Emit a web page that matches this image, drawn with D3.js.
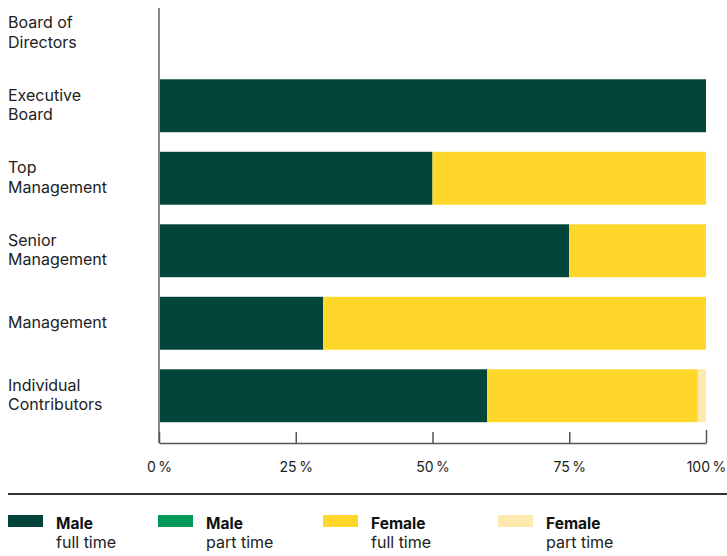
<!DOCTYPE html>
<html>
<head>
<meta charset="utf-8">
<script src="https://cdn.jsdelivr.net/npm/d3@7"></script>
<style>
  body { margin: 0; background: #fff; }
  svg { font-family: Inter, "Open Sans", sans-serif; }
</style>
</head>
<body>
<svg width="727" height="556"></svg>
<script>
// chart data
var categories = [
   ["Board of", "Directors"],
   ["Executive", "Board"],
   ["Top", "Management"],
   ["Senior", "Management"],
   ["Management"],
   ["Individual", "Contributors"]
];
var maleFull   = [0, 100, 50, 75, 30, 60];
var malePart   = [0, 0, 0, 0, 0, 0];
var femaleFull = [0, 0, 50, 25, 70, 38.5];
var femalePart = [0, 0, 0, 0, 0, 1.5];
var ticks = [0, 25, 50, 75, 100];

var seriesNames = [["Male", "full time"], ["Male", "part time"], ["Female", "full time"], ["Female", "part time"]];
var colors = ["#03453a", "#00995a", "#ffd62a", "#feeaae"];

var svg = d3.select("svg");

var x = d3.scaleLinear().domain([0, 100]).range([159, 706]);
var y = d3.scaleBand()
   .domain(d3.range(categories.length))
   .range([-3, 432])
   .paddingInner(0.27)
   .paddingOuter(0.135);

// stack the series
var rows = categories.map(function(c, i) {
   return { i: i, s0: maleFull[i], s1: malePart[i], s2: femaleFull[i], s3: femalePart[i] };
});
var stack = d3.stack().keys(["s0", "s1", "s2", "s3"]);
var layers = stack(rows);

svg.append("g").selectAll("g")
   .data(layers)
   .join("g")
   .attr("fill", function(d, k) { return colors[k]; })
   .selectAll("rect")
   .data(function(d) { return d; })
   .join("rect")
   .attr("x", function(d) { return x(d[0]); })
   .attr("y", function(d) { return y(d.data.i); })
   .attr("width", function(d) { return x(d[1]) - x(d[0]); })
   .attr("height", y.bandwidth());

// category labels
var labels = svg.append("g").selectAll("text")
   .data(categories)
   .join("text")
   .attr("x", 8)
   .attr("y", function(d, i) { return y(i) + y.bandwidth() / 2 - 1; })
   .attr("font-size", 16)
   .attr("fill", "#222");

labels.each(function(d) {
   var t = d3.select(this);
   var lh = 19.5;
   var start = -(d.length - 1) * lh / 2;
   d.forEach(function(line, k) {
      t.append("tspan")
         .attr("x", 8)
         .attr("y", +t.attr("y") + start + k * lh)
         .attr("dy", "0.35em")
         .text(line);
   });
});

// left axis line
svg.append("line")
   .attr("x1", x(0)).attr("x2", x(0))
   .attr("y1", 8).attr("y2", 443)
   .attr("stroke", "#888")
   .attr("stroke-width", 2);

// bottom axis
var xAxis = d3.axisBottom(x)
   .tickValues(ticks)
   .tickSizeInner(-11)
   .tickSizeOuter(0)
   .tickPadding(19)
   .tickFormat(function(d) { return d + "\u2009%"; });

var gx = svg.append("g")
   .attr("transform", "translate(0,443)")
   .call(xAxis);
gx.select(".domain").attr("stroke", "#555").attr("stroke-width", 1.5);
gx.selectAll(".tick line").attr("stroke", "#555").attr("stroke-width", 1.5);
gx.selectAll(".tick").filter(function(d) { return d === 100; }).select("line").attr("y2", -13);
gx.selectAll(".tick text")
   .attr("font-size", 14)
   .attr("fill", "#222")
   .attr("font-family", "Inter, 'Open Sans', sans-serif");

// separator line
svg.append("line")
   .attr("x1", 8).attr("x2", 727)
   .attr("y1", 494).attr("y2", 494)
   .attr("stroke", "#333")
   .attr("stroke-width", 2);

// legend
var legendX = [8, 158, 323, 498];
var lg = svg.append("g").selectAll("g")
   .data(seriesNames)
   .join("g")
   .attr("transform", function(d, i) { return "translate(" + legendX[i] + ",0)"; });

lg.append("rect")
   .attr("x", 0).attr("y", 515)
   .attr("width", 35).attr("height", 12)
   .attr("fill", function(d, i) { return colors[i]; });

lg.append("text")
   .attr("x", 48).attr("y", 529)
   .attr("font-size", 15.5)
   .attr("font-weight", "bold")
   .attr("fill", "#111")
   .text(function(d) { return d[0]; });

lg.append("text")
   .attr("x", 48).attr("y", 548)
   .attr("font-size", 16)
   .attr("fill", "#222")
   .text(function(d) { return d[1]; });
</script>
</body>
</html>
